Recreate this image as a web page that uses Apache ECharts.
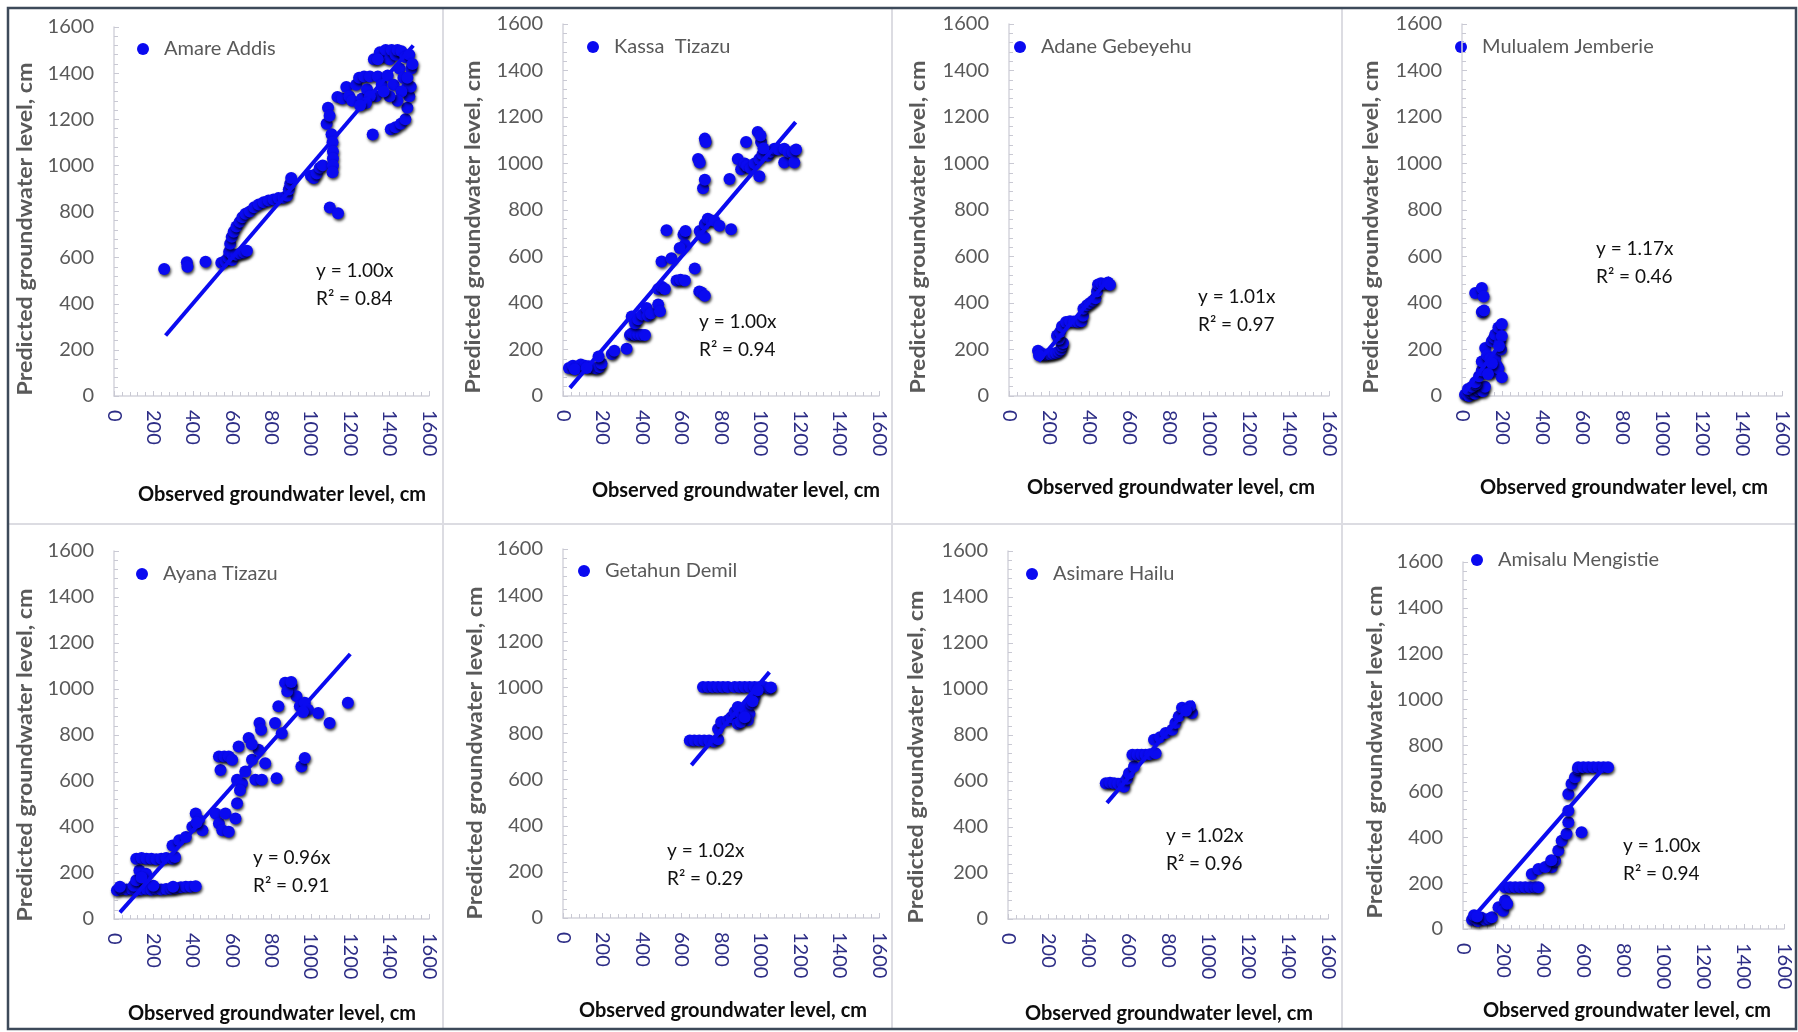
<!DOCTYPE html>
<html>
<head>
<meta charset="utf-8">
<title>Observed vs predicted groundwater level</title>
<script src="https://cdn.jsdelivr.net/npm/echarts@6/dist/echarts.min.js"></script>
<style>
html,body{margin:0;padding:0;background:#fff;}
#chart{width:1798px;height:1032px;}
</style>
</head>
<body>
<div id="chart"></div>
<script>
// farmer / well names, one per panel
var stations = ["Amare Addis", "Kassa  Tizazu", "Adane Gebeyehu", "Mulualem Jemberie",
	"Ayana Tizazu", "Getahun Demil", "Asimare Hailu", "Amisalu Mengistie"];
var equations = ["y = 1.00x", "y = 1.00x", "y = 1.01x", "y = 1.17x", "y = 0.96x", "y = 1.02x", "y = 1.02x", "y = 1.00x"];
var rSquared = ["R² = 0.84", "R² = 0.94", "R² = 0.97", "R² = 0.46", "R² = 0.91", "R² = 0.29", "R² = 0.96", "R² = 0.94"];
var axisMin = 0, axisMax = 1600, axisStep = 200;

// [observed, predicted] in cm
var amareAddis = [[255,551],[370,580],[373,560],[465,582],
	[545,578],[565,585],[580,600],[600,590],
	[585,625],[600,615],[620,612],[640,618],[660,622],[675,630],
	[590,660],[598,690],[608,712],[622,735],[638,755],[652,775],[668,790],[690,800],[712,818],[735,830],[760,840],[785,848],[810,852],[835,858],[860,860],[880,868],[888,895],[895,920],[900,945],
	[1000,955],[1015,945],[1030,965],[1045,990],[1060,1000],
	[1096,817],[1138,792],
	[1080,1180],[1087,1250],[1095,1215],[1105,1135],[1110,1100],[1112,1060],[1112,1030],[1112,1000],[1110,970],
	[1135,1297],[1160,1290],
	[1180,1340],[1195,1300],[1210,1280],[1230,1350],[1245,1380],[1260,1290],[1270,1385],[1285,1330],[1300,1385],[1314,1134],[1320,1460],[1330,1300],[1340,1385],[1350,1490],[1360,1350],[1370,1470],[1380,1500],[1390,1390],[1400,1460],[1410,1500],[1420,1350],[1430,1480],[1440,1500],[1450,1420],[1460,1495],[1470,1380],[1480,1470],[1490,1340],[1500,1480],[1510,1420],[1516,1440],
	[1406,1157],[1430,1165],[1457,1180],[1480,1200],[1490,1250],[1500,1300],[1507,1341],[1490,1380],[1460,1320],[1440,1280],[1400,1300],[1370,1320],[1340,1460],[1300,1300],[1280,1270],[1250,1260]];
var kassaTizazu = [[30,120],[50,130],[70,125],[90,135],[110,130],[130,128],[150,122],[170,118],[185,125],[195,140],[60,115],[120,120],[180,170],
	[247,181],[260,195],[322,203],[339,262],[350,270],[365,262],[380,265],[398,262],[415,262],[348,342],[365,313],[380,330],[400,350],[423,379],[430,345],[445,355],
	[482,394],[491,365],[482,460],[500,470],[516,460],[499,578],[524,713],[549,592],[575,497],[595,500],[617,497],[610,695],[617,651],[591,637],[620,710],
	[667,548],[690,450],[701,445],[718,431],[692,710],[705,690],[718,681],[718,740],[733,762],[750,755],[767,754],[792,732],[851,717],
	[684,1019],[692,1004],[709,894],[718,930],[718,1107],[722,1092],
	[843,933],[885,1019],[902,975],[920,1000],[927,1092],[931,989],[950,980],[970,1000],[986,1136],[994,1019],[994,945],[1003,1092],[1010,1040],[1037,1033],[1050,1050],[1070,1063],[1090,1060],[1120,1063],[1120,1004],[1140,1050],[1163,1048],[1171,1004],[1180,1060],[1000,1120],[1015,1065]];
var adaneGebeyehu = [[145,195],[160,185],[175,175],[190,178],[205,180],[220,182],[235,185],[250,190],[260,200],[265,215],[270,228],[250,245],[240,260],[255,275],[265,300],[285,318],[305,322],[325,320],[345,318],[362,322],[370,345],[372,375],[390,390],[405,400],[420,410],[432,420],[440,450],[445,480],[460,485],[478,482],[495,488],[505,478],[150,175]];
var mulualemJemberie = [[15,5],[25,10],[35,0],[45,15],[55,20],[65,10],[80,25],[95,30],[105,20],[115,40],[30,30],[50,40],[70,50],
	[66,59],[85,85],[99,110],[116,133],[99,148],[116,206],[125,175],[140,160],[149,103],[149,236],[160,250],[166,265],[166,162],[175,130],[182,118],[182,295],[191,236],[199,310],[199,258],[199,81],[195,200],[185,215],[150,140],[130,95],
	[66,443],[99,465],[108,428],[99,361],[110,368]];
var ayanaTizazu = [[15,125],[40,130],[65,128],[90,130],[115,125],[140,128],[165,130],[190,127],[215,130],[240,128],[265,130],[290,132],[315,134],[340,138],[365,140],[390,140],[415,142],[30,140],[100,145],[200,145],[300,140],
	[113,168],[129,211],[163,197],[140,180],
	[113,262],[140,265],[165,262],[190,262],[215,260],[240,262],[265,265],[297,262],[310,270],
	[297,320],[331,342],[365,357],[398,401],[415,459],[432,430],[449,386],[420,420],
	[516,459],[533,415],[550,386],[583,379],[566,459],[617,437],[541,648],[533,707],[560,707],[583,707],[600,692],
	[633,750],[625,605],[650,590],[625,503],[667,641],[640,560],[684,787],[701,692],[718,605],[734,736],[751,605],[768,677],[739,852],[747,823],[700,760],
	[818,852],[826,612],[852,808],[835,925],[869,1027],[902,1012],[927,969],[944,925],[969,940],[986,910],[1037,896],[1095,852],[952,663],[969,700],[1188,940],[880,990],[900,1030],[960,900]];
var getahunDemil = [[709,1002],[735,1002],[760,1002],[785,1002],[810,1002],[835,1002],[869,1002],[895,1002],[920,1002],[945,1002],[970,1002],[995,1002],[1020,1002],[1045,995],[1053,1000],
	[642,770],[665,770],[690,770],[715,770],[740,770],[765,765],[785,775],
	[785,820],[801,850],[835,857],[852,871],[869,893],[885,915],[902,886],[919,908],[944,886],[953,929],[970,958],[986,987],[936,857],[885,842],[900,850],[920,870],[960,940]];
var asimareHailu = [[489,590],[510,592],[530,590],[550,588],[572,590],[580,575],[595,610],[605,634],[630,663],[622,714],[647,714],[668,714],[688,714],[710,716],[738,721],[730,779],[760,790],[788,809],[821,823],[837,852],[854,881],[870,918],[904,911],[920,896],[910,925],[890,905]];
var amisaluMengistie = [[45,40],[60,45],[75,35],[90,50],[110,40],[130,45],[144,51],[55,60],[70,55],
	[177,95],[210,124],[200,80],[220,110],
	[210,182],[235,182],[260,182],[285,182],[310,182],[335,182],[360,182],[376,182],
	[343,240],[376,262],[442,269],[459,298],[475,342],[492,385],[516,415],[525,465],[525,516],[525,589],[541,633],[558,662],[574,698],[591,422],[410,270],[440,300],
	[574,705],[600,705],[625,705],[650,705],[675,705],[700,705],[723,705]];

// trend line end points (y = slope * x through origin)
var amareTrend = [[262,262],[1520,1520]];
var kassaTrend = [[35,35],[1178,1178]];
var adaneTrend = [[148,150],[505,510]];
var mulualemTrend = [[10,12],[200,234]];
var ayanaTrend = [[30,29],[1200,1152]];
var getahunTrend = [[650,663],[1045,1066]];
var asimareTrend = [[495,505],[928,947]];
var amisaluTrend = [[55,55],[710,710]];

var pointSets = [amareAddis, kassaTizazu, adaneGebeyehu, mulualemJemberie, ayanaTizazu, getahunDemil, asimareHailu, amisaluMengistie];
var trendSets = [amareTrend, kassaTrend, adaneTrend, mulualemTrend, ayanaTrend, getahunTrend, asimareTrend, amisaluTrend];

// panel layout (pixels): plot box, legend, equation, axis titles
var panels = [
	{l:114, t:27, w:315, h:369, leg:[143,49], eq:[316,271], xt:[282,495], yt:[26,229]},
	{l:563, t:24, w:316, h:372, leg:[593,47], eq:[699,322], xt:[736,491], yt:[474,227]},
	{l:1009, t:24, w:320, h:372, leg:[1020,47], eq:[1198,297], xt:[1171,488], yt:[919,227]},
	{l:1462, t:24, w:320, h:372, leg:[1461,47], eq:[1596,249], xt:[1624,488], yt:[1372,227]},
	{l:114, t:551, w:315, h:368, leg:[142,574], eq:[253,858], xt:[272,1014], yt:[26,755]},
	{l:563, t:549, w:316, h:369, leg:[584,571], eq:[667,851], xt:[723,1011], yt:[476,753]},
	{l:1008, t:551, w:320, h:368, leg:[1032,574], eq:[1166,836], xt:[1169,1014], yt:[917,757]},
	{l:1463, t:562, w:321, h:367, leg:[1477,560], eq:[1623,846], xt:[1627,1011], yt:[1376,752]}
];

var FONT = "Lato, 'Open Sans', sans-serif";
var BLUE = "#0a0af0";
var grids = [], xAxes = [], yAxes = [], series = [], graphics = [];

function plain(v) { return String(v); }

function $each(arr, fn) { for (var k = 0; k < arr.length; k++) fn(arr[k], k); }

$each(panels, function(p, i) {
	grids.push({left: p.l, top: p.t, width: p.w, height: p.h, containLabel: false});
	var tickLine = {color: "#c9c9d3", width: 1};
	xAxes.push({
		type: "value", gridIndex: i, min: axisMin, max: axisMax, interval: axisStep,
		splitLine: {show: false},
		axisLine: {show: true, onZero: false, lineStyle: {color: "#d4d4dc", width: 1.5}},
		axisTick: {show: true, inside: true, length: 5, lineStyle: tickLine},
		minorTick: {show: true, splitNumber: 5, length: 4, lineStyle: tickLine},
		axisLabel: {rotate: -90, margin: 14, color: "#2d2d86", fontSize: 20, fontFamily: FONT, formatter: plain}
	});
	yAxes.push({
		type: "value", gridIndex: i, min: axisMin, max: axisMax, interval: axisStep,
		splitLine: {show: false},
		axisLine: {show: true, onZero: false, lineStyle: {color: "#d4d4dc", width: 1.5}},
		axisTick: {show: true, inside: true, length: 5, lineStyle: tickLine},
		minorTick: {show: true, splitNumber: 5, length: 4, lineStyle: tickLine},
		axisLabel: {margin: 20, color: "#595959", fontSize: 20, fontFamily: FONT, formatter: plain}
	});
	series.push({
		name: stations[i], type: "scatter", xAxisIndex: i, yAxisIndex: i,
		data: pointSets[i], symbolSize: 12, z: 2,
		itemStyle: {color: BLUE, opacity: 1, shadowColor: "rgba(0,0,0,0.75)", shadowBlur: 3, shadowOffsetX: 1, shadowOffsetY: 2}
	});
	series.push({
		name: stations[i] + " trend", type: "line", xAxisIndex: i, yAxisIndex: i,
		data: trendSets[i], symbol: "none", z: 3, silent: true,
		lineStyle: {color: BLUE, width: 4}
	});
	// legend marker + name
	graphics.push({type: "circle", shape: {cx: p.leg[0], cy: p.leg[1], r: 6}, style: {fill: BLUE}});
	graphics.push({type: "text", x: p.leg[0] + 21, y: p.leg[1], style: {text: stations[i], fill: "#595959", font: "20px " + FONT, verticalAlign: "middle"}});
	// regression text
	graphics.push({type: "text", x: p.eq[0], y: p.eq[1], style: {text: equations[i], fill: "#111", font: "19px " + FONT, verticalAlign: "middle"}});
	graphics.push({type: "text", x: p.eq[0], y: p.eq[1] + 28, style: {text: rSquared[i], fill: "#111", font: "19px " + FONT, verticalAlign: "middle"}});
	// axis titles
	graphics.push({type: "text", x: p.xt[0], y: p.xt[1], style: {text: "Observed groundwater level, cm", fill: "#0d0d0d", font: "bold 20px " + FONT, align: "center", verticalAlign: "middle"}});
	graphics.push({type: "text", x: p.yt[0], y: p.yt[1], rotation: Math.PI / 2, scaleX: 1.16,
		style: {text: "Predicted groundwater level, cm", fill: "#595959", font: "bold 20px " + FONT, align: "center", verticalAlign: "middle"}});
});

// panel separators and outer frame
var sep = {stroke: "#dcdce2", lineWidth: 2};
graphics.push({type: "line", shape: {x1: 443, y1: 8, x2: 443, y2: 1030}, style: sep});
graphics.push({type: "line", shape: {x1: 892, y1: 8, x2: 892, y2: 1030}, style: sep});
graphics.push({type: "line", shape: {x1: 1342, y1: 8, x2: 1342, y2: 1030}, style: sep});
graphics.push({type: "line", shape: {x1: 8, y1: 524, x2: 1796, y2: 524}, style: sep});
graphics.push({type: "rect", shape: {x: 8, y: 8, width: 1788, height: 1021}, style: {fill: "none", stroke: "#3d4a5a", lineWidth: 2.5}});

var myChart = echarts.init(document.getElementById("chart"), null, {renderer: "canvas"});
myChart.setOption({
	animation: false,
	backgroundColor: "#ffffff",
	grid: grids,
	xAxis: xAxes,
	yAxis: yAxes,
	series: series,
	graphic: graphics
});
</script>
</body>
</html>
